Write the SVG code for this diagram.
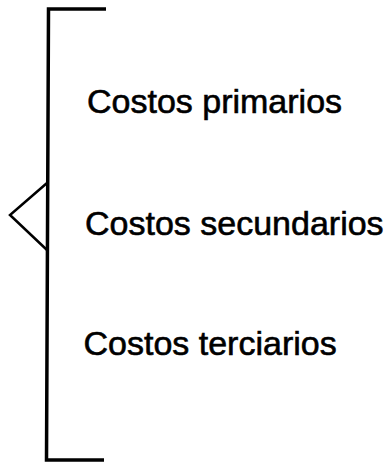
<svg xmlns="http://www.w3.org/2000/svg" width="388" height="462" viewBox="0 0 388 462">
<style>
.ln{fill:none;stroke:#000;stroke-width:3.5;stroke-linejoin:miter}
.lbl{font-family:"Liberation Sans",Arial,sans-serif;font-size:34px;fill:#000;stroke:#000;stroke-width:0.6}
</style>
<rect width="388" height="462" fill="#fff"/>
<g id="connectors">
<path class="ln" d="M106 9 H48.5 L46.5 460 H104"/>
<polyline class="ln" style="stroke-width:2.5" points="47,183 10,215 47,250"/>
</g>
<g id="primarios"><text class="lbl" x="87" y="113">Costos primarios</text></g>
<g id="secundarios"><text class="lbl" x="85" y="235">Costos secundarios</text></g>
<g id="terciarios"><text class="lbl" x="83.5" y="355">Costos terciarios</text></g>
</svg>
